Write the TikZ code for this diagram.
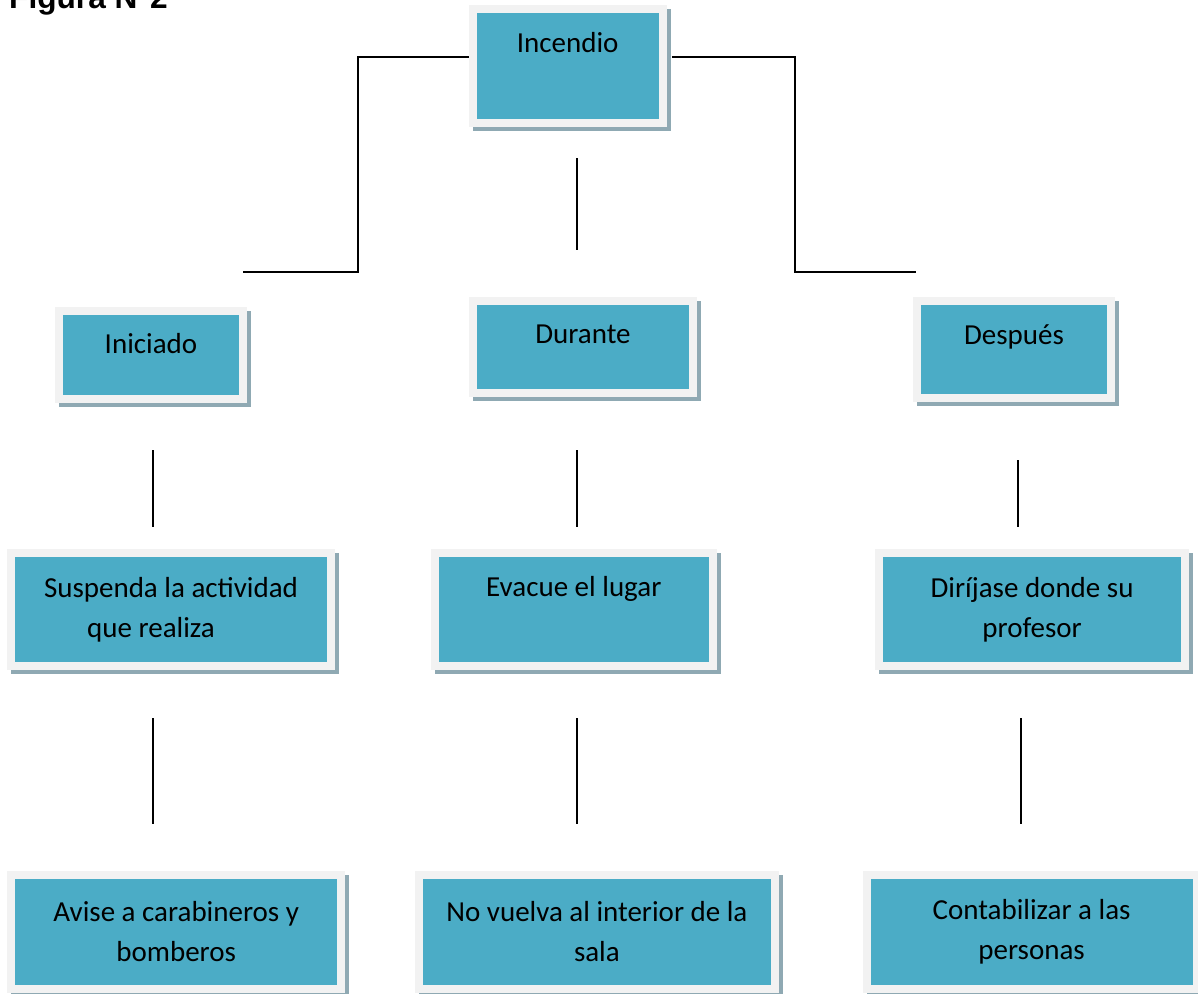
\documentclass[tikz,border=0pt]{standalone}
\usepackage{fontspec}
\setmainfont{Carlito}
\newfontfamily\arialfont{Liberation Sans}
\usetikzlibrary{shadows}
\definecolor{celeste}{RGB}{75,172,198}
\definecolor{marco}{RGB}{242,242,242}
\definecolor{sombra}{RGB}{143,169,179}

\begin{document}
\begin{tikzpicture}[x=0.02cm,y=-0.02cm,
    caja/.style ={rectangle, fill=celeste, draw=marco, line width=0.16cm, align=center,
      font=\fontsize{16.5}{23}\selectfont,
      drop shadow={shadow xshift=0.08cm, shadow yshift=-0.08cm, fill=sombra, draw=sombra, line width=0.16cm, opacity=1}},
    linea/.style ={line width=0.04cm}]
   \useasboundingbox (0,0) rectangle (1198,994);
   \node[anchor=base west, font=\arialfont\bfseries\fontsize{18}{22}\selectfont] (titulo) at (3,8) {Figura N°2};
   \node[caja, minimum width=3.81cm, minimum height=2.29cm, text depth=0.96cm] (incendio) at (567.75,66.25) {Incendio};
   \node[caja, minimum width=3.68cm, minimum height=1.76cm, text depth=0.48cm] (iniciado) at (151,355) {Iniciado};
   \node[caja, minimum width=4.40cm, minimum height=1.83cm, text depth=0.52cm] (durante) at (583,346.8) {Durante};
   \node[caja, minimum width=3.88cm, minimum height=1.94cm, text depth=0.60cm] (despues) at (1014,349.5) {Después};
   \node[caja, minimum width=6.40cm, minimum height=2.27cm] (suspenda) at (171,609.7) {Suspenda la actividad\\que realiza\hspace*{0.8cm}};
   \node[caja, minimum width=5.55cm, minimum height=2.27cm, text depth=0.92cm] (evacue) at (573.8,609.7) {Evacue el lugar};
   \node[caja, minimum width=6.12cm, minimum height=2.27cm] (dirijase) at (1032.1,609.7) {Diríjase donde su\\profesor};
   \node[caja, minimum width=6.60cm, minimum height=2.27cm] (avise) at (176.2,931.8) {Avise a carabineros y\\bomberos};
   \node[caja, minimum width=7.12cm, minimum height=2.27cm] (novuelva) at (596.9,931.8) {No vuelva al interior de la\\sala};
   \node[caja, minimum width=6.60cm, minimum height=2.27cm] (contabilizar) at (1031.6,931.8) {Contabilizar a las\\personas};
   \coordinate (codoI) at (358,57);
   \coordinate (finI) at (243,272);
   \coordinate (codoD) at (795,57);
   \coordinate (finD) at (916,272);
   \draw[linea] (incendio.west |- codoI) -- (codoI) |- (finI);
   \draw[linea] ([xshift=0.1cm]incendio.east |- codoD) -- (codoD) |- (finD);
   \foreach \n/\x/\a/\b in {m/577/158/250, a/153/450/527, b/577/450/527, c/1018/460/527,
       d/153/718/824, e/577/718/824, f/1021/718/824}{
     \coordinate (\n1) at (\x,\a);
     \coordinate (\n2) at (\x,\b);
     \draw[linea] (\n1) -- (\n2);
   }
\end{tikzpicture}
\end{document}
